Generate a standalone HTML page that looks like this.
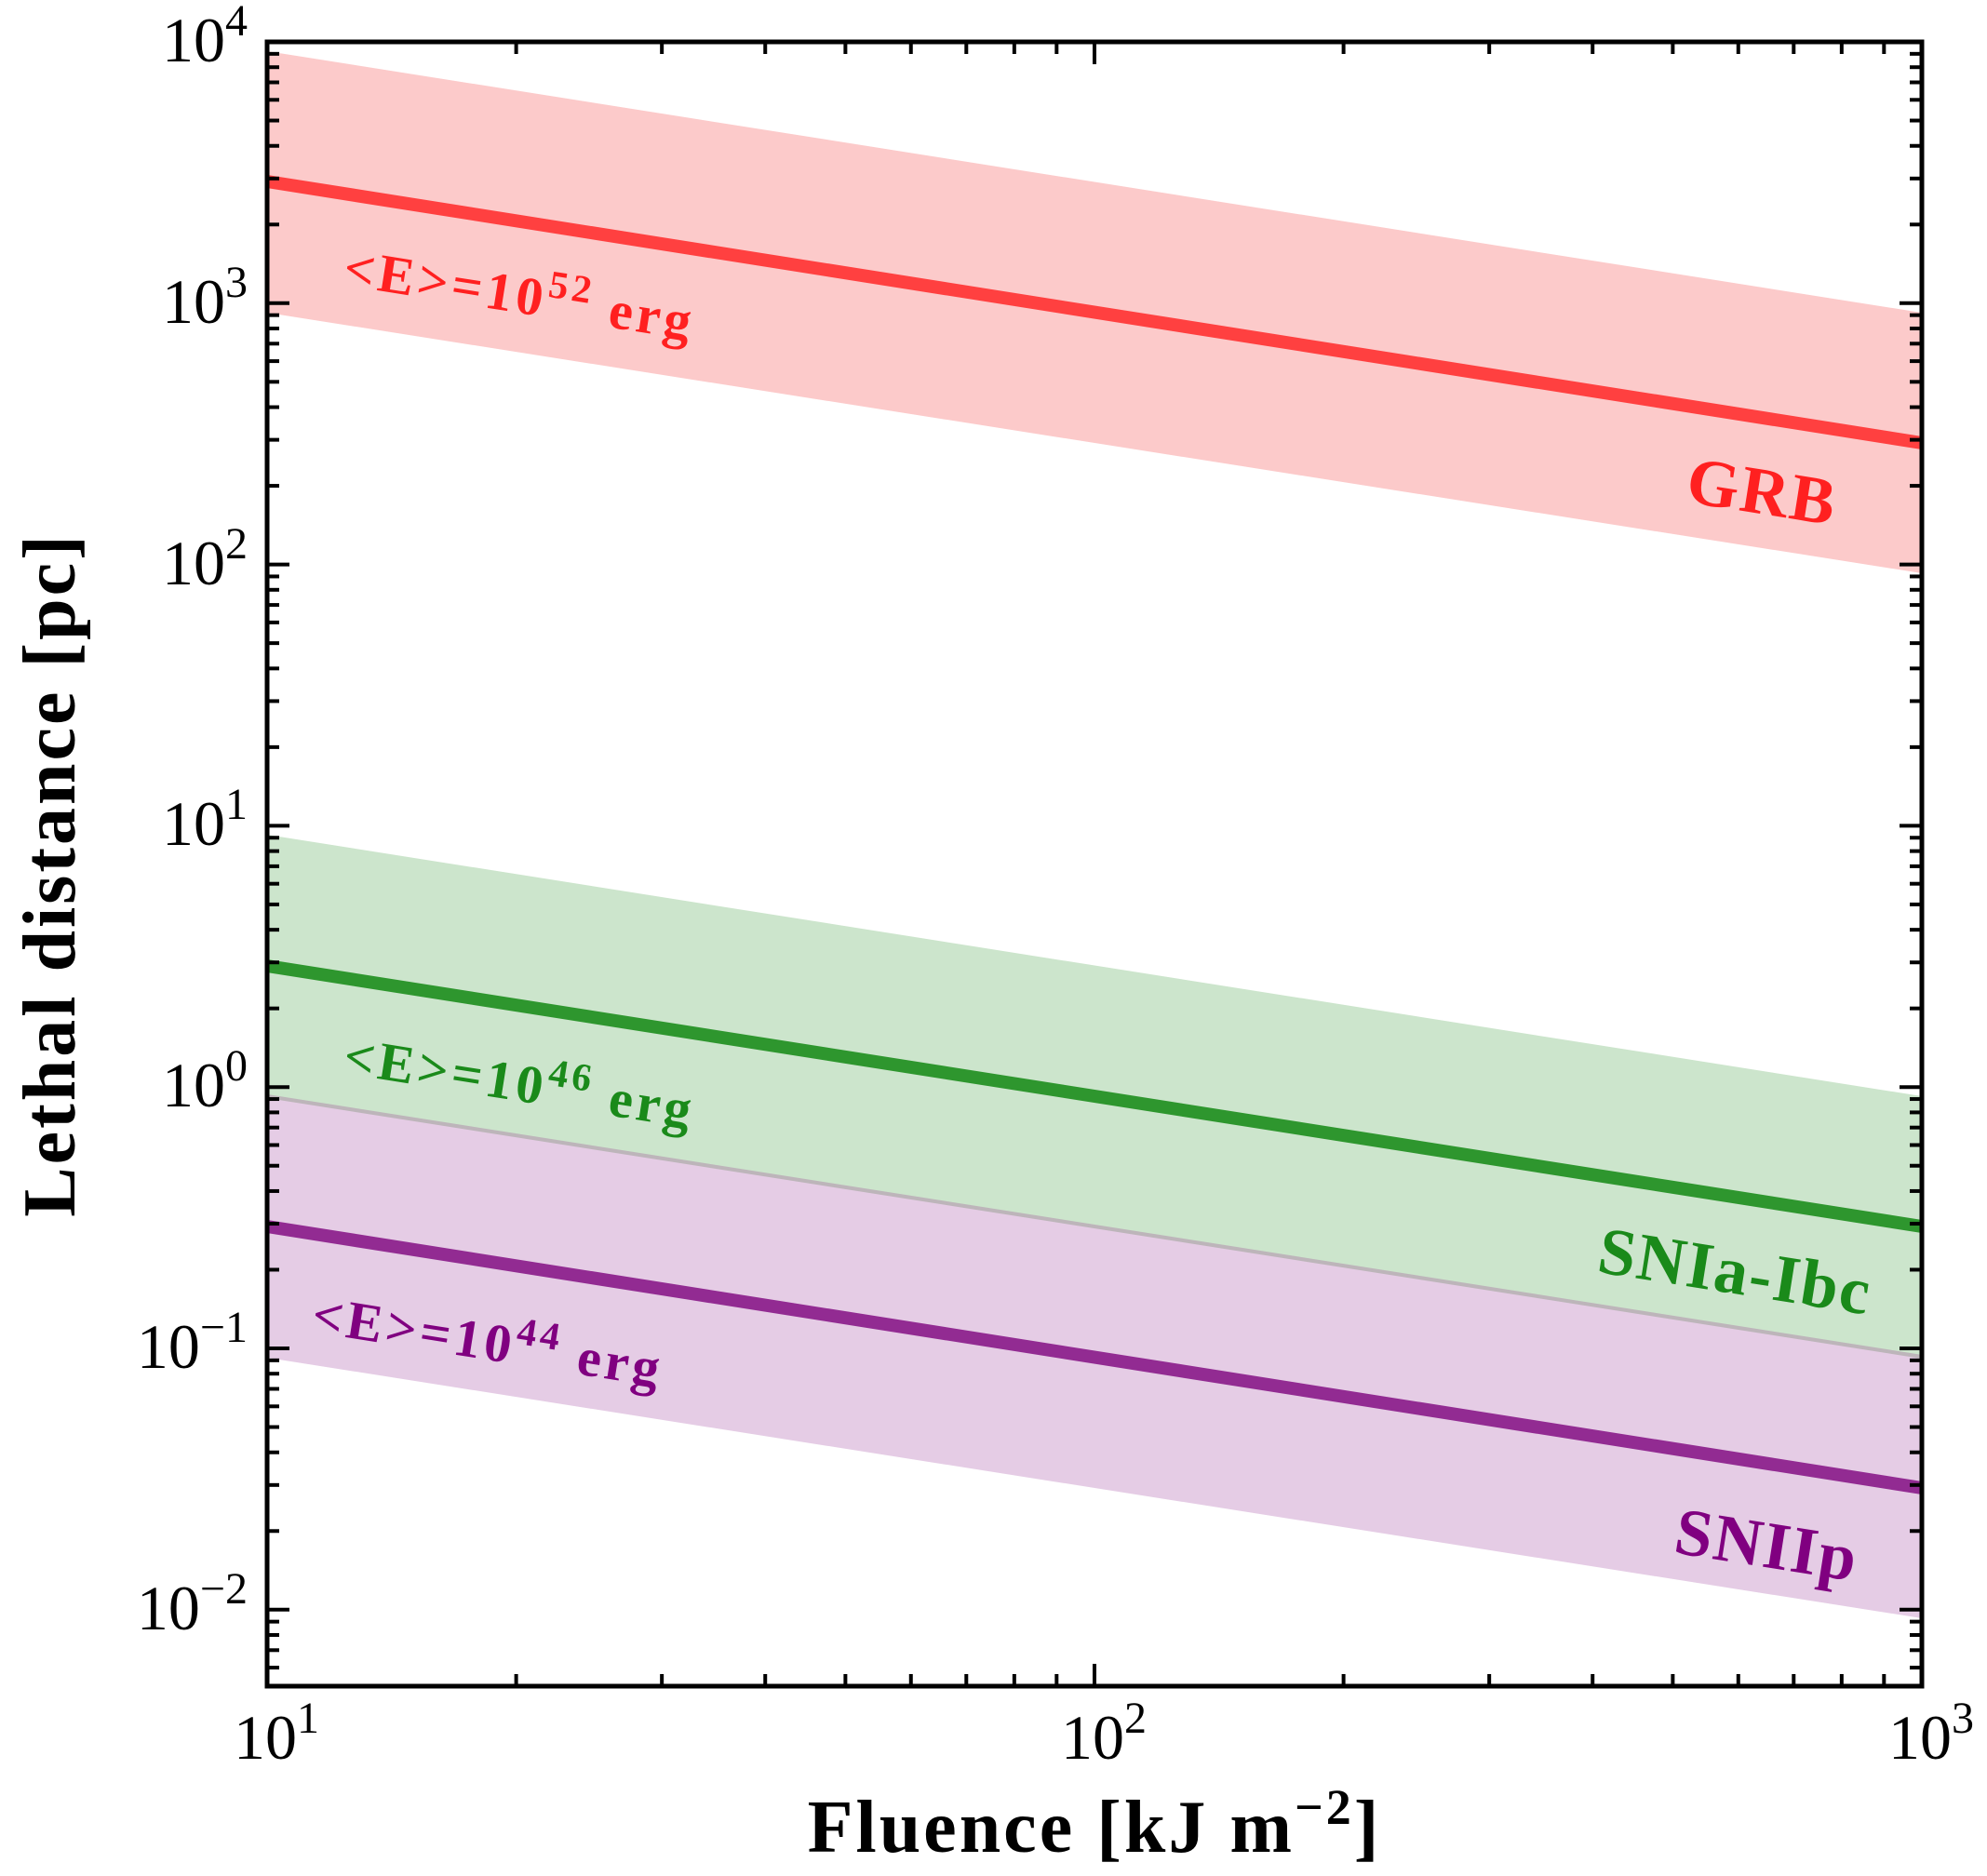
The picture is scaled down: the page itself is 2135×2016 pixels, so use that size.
<!DOCTYPE html>
<html><head><meta charset="utf-8"><style>
html,body{margin:0;padding:0;background:#fff;}
svg{display:block;}
text{font-family:"Liberation Serif",serif;}
</style></head><body>
<svg id="s" width="2135" height="2016" viewBox="0 0 2135 2016" xmlns="http://www.w3.org/2000/svg">
<polygon points="287,55 2065,336 2065,616 287,336" fill="#fccaca"/>
<polygon points="287,897 2065,1178 2065,1458 287,1178" fill="#cce5cc"/>
<polygon points="287,1178 2065,1458 2065,1739 287,1459" fill="#e5cce5"/>
<line x1="287" y1="1178" x2="2065" y2="1458" stroke="#bdb5ba" stroke-width="4"/>
<line x1="287" y1="195" x2="2065" y2="476" stroke="#ff4040" stroke-width="14"/>
<line x1="287" y1="1038" x2="2065" y2="1318" stroke="#2e962e" stroke-width="14"/>
<line x1="287" y1="1318" x2="2065" y2="1599" stroke="#922b92" stroke-width="14"/>
<g id="ticks" stroke="#000" stroke-width="4"></g>
<rect x="287" y="45" width="1778" height="1767" fill="none" stroke="#000" stroke-width="5"/>
<g font-weight="bold">
<text x="558" y="336" font-size="58" letter-spacing="4" fill="#ff2020" text-anchor="middle" transform="rotate(9 558 319)">&lt;E&gt;=10<tspan dy="-22" font-size="42">52</tspan><tspan dy="22"> erg</tspan></text>
<text x="1893" y="552" font-size="72" letter-spacing="2" fill="#ff2020" text-anchor="middle" transform="rotate(9 1893 531)">GRB</text>
<text x="558" y="1183" font-size="58" letter-spacing="4" fill="#1a8a1a" text-anchor="middle" transform="rotate(9 558 1166)">&lt;E&gt;=10<tspan dy="-22" font-size="42">46</tspan><tspan dy="22"> erg</tspan></text>
<text x="1864" y="1390" font-size="72" letter-spacing="2" fill="#1a8a1a" text-anchor="middle" transform="rotate(9 1864 1369)">SNIa-Ibc</text>
<text x="524" y="1461" font-size="58" letter-spacing="4" fill="#800080" text-anchor="middle" transform="rotate(9 524 1444)">&lt;E&gt;=10<tspan dy="-22" font-size="42">44</tspan><tspan dy="22"> erg</tspan></text>
<text x="1898" y="1684" font-size="72" letter-spacing="2" fill="#800080" text-anchor="middle" transform="rotate(9 1898 1663)">SNIIp</text>
</g>
<g font-size="68" text-anchor="end">
<text x="266" y="66">10<tspan dy="-28" font-size="48">4</tspan></text>
<text x="266" y="347">10<tspan dy="-28" font-size="48">3</tspan></text>
<text x="266" y="628">10<tspan dy="-28" font-size="48">2</tspan></text>
<text x="266" y="908">10<tspan dy="-28" font-size="48">1</tspan></text>
<text x="266" y="1189">10<tspan dy="-28" font-size="48">0</tspan></text>
<text x="266" y="1470">10<tspan dy="-28" font-size="48">−1</tspan></text>
<text x="266" y="1751">10<tspan dy="-28" font-size="48">−2</tspan></text>
</g>
<g font-size="68" text-anchor="middle">
<text x="297" y="1890">10<tspan dy="-28" font-size="48">1</tspan></text>
<text x="1186" y="1890">10<tspan dy="-28" font-size="48">2</tspan></text>
<text x="2075" y="1890">10<tspan dy="-28" font-size="48">3</tspan></text>
</g>
<text x="1176" y="1990" font-size="80" letter-spacing="3" font-weight="bold" text-anchor="middle">Fluence [kJ m<tspan dy="-30" font-size="54">−2</tspan><tspan dy="30">]</tspan></text>
<text x="0" y="0" font-size="80" letter-spacing="3" font-weight="bold" text-anchor="middle" transform="translate(80 940) rotate(-90)">Lethal distance [pc]</text>
</svg>
<script>
(function(){
var g=document.getElementById('ticks'),ns='http://www.w3.org/2000/svg';
function L(x1,y1,x2,y2){var l=document.createElementNS(ns,'line');l.setAttribute('x1',x1);l.setAttribute('y1',y1);l.setAttribute('x2',x2);l.setAttribute('y2',y2);g.appendChild(l);}
var X0=287,X1=2065,Y0=45,Y1=1812,dx=889,dy=280.8;
for(var d=0;d<2;d++)for(var k=1;k<=10;k++){var x=X0+(d+Math.log10(k))*dx;var len=(k==1||k==10)?24:13;if(x>X1+1)continue;L(x,Y1,x,Y1-len);L(x,Y0,x,Y0+len);}
for(var e=-3;e<4;e++)for(var k=1;k<10;k++){var v=e+Math.log10(k);var y=Y0+(4-v)*dy;if(y<Y0-1||y>Y1)continue;var len=(k==1)?24:13;L(X0,y,X0+len,y);L(X1,y,X1-len,y);}
})();
</script>
</body></html>
